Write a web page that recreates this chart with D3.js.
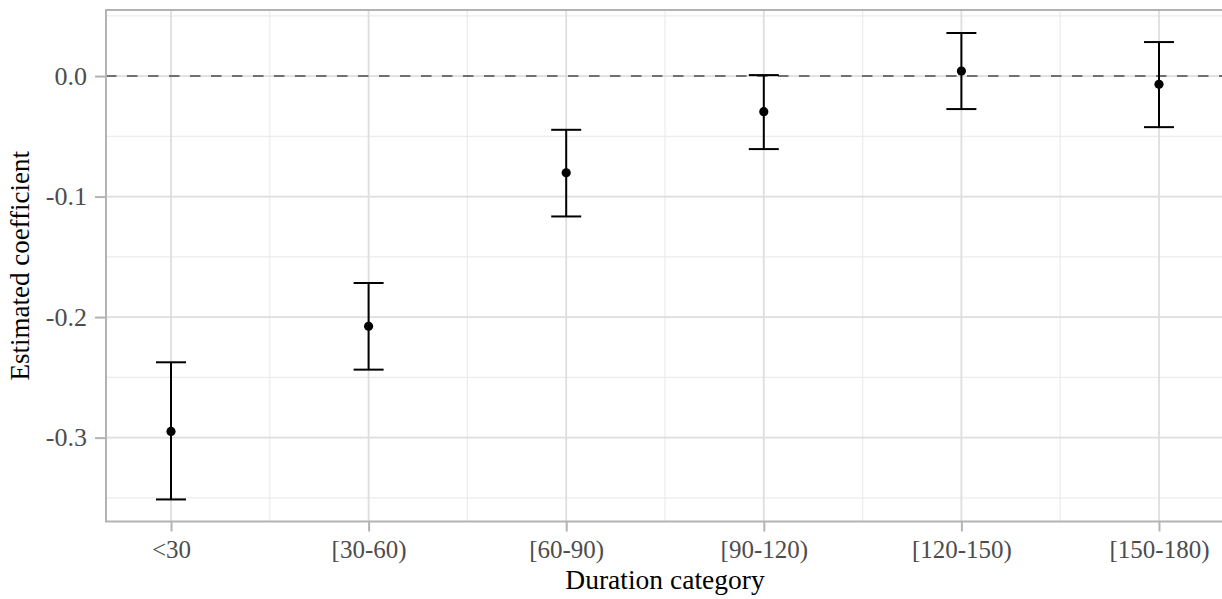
<!DOCTYPE html>
<html><head><meta charset="utf-8">
<script src="https://cdn.jsdelivr.net/npm/d3@7"></script>
<style>body{margin:0;background:#fff;} svg{display:block;}</style>
</head><body>
<svg id="chart" width="1222" height="599"></svg>
<script>
const categories = ["<30","[30-60)","[60-90)","[90-120)","[120-150)","[150-180)"];
const estimates = [-0.2949, -0.2076, -0.0803, -0.0296, 0.0042, -0.0069];
const lower = [-0.3513, -0.2436, -0.1165, -0.0606, -0.0274, -0.0424];
const upper = [-0.2375, -0.1717, -0.0446, 0.0008, 0.0357, 0.0282];
const yTicks = [0.0, -0.1, -0.2, -0.3];
const yMinor = [0.05, -0.05, -0.15, -0.25, -0.35];
const xTitle = "Duration category";
const yTitle = "Estimated coefficient";

const svg = d3.select("#chart");
const L = 106, R = 1224, T = 10, B = 521.5;
const font = "'Liberation Serif', 'Times New Roman', serif";

const x = d3.scalePoint().domain(categories).range([L, R]).padding(0.329);
const y = d3.scaleLinear().domain([-0.3696, 0.0548]).range([B, T]);
const step = x.step();

const g = svg.append("g");
// minor grid
g.selectAll(".ymin").data(yMinor).join("line")
  .attr("x1", L).attr("x2", R).attr("y1", d => y(d)).attr("y2", d => y(d))
  .attr("stroke", "#ebebeb").attr("stroke-width", 1.2);
g.selectAll(".xmin").data(categories.slice(0, -1)).join("line")
  .attr("x1", d => x(d) + step / 2).attr("x2", d => x(d) + step / 2)
  .attr("y1", T).attr("y2", B)
  .attr("stroke", "#ebebeb").attr("stroke-width", 1.2);
// major grid
g.selectAll(".ymaj").data(yTicks).join("line")
  .attr("x1", L).attr("x2", R).attr("y1", d => y(d)).attr("y2", d => y(d))
  .attr("stroke", "#dedede").attr("stroke-width", 1.8);
g.selectAll(".xmaj").data(categories).join("line")
  .attr("x1", d => x(d)).attr("x2", d => x(d)).attr("y1", T).attr("y2", B)
  .attr("stroke", "#dedede").attr("stroke-width", 1.8);

// zero dashed line
g.append("line").attr("x1", L).attr("x2", R).attr("y1", y(0)).attr("y2", y(0))
  .attr("stroke", "#707070").attr("stroke-width", 2).attr("stroke-dasharray", "10.5,10.5");

// error bars
const data = categories.map((c, i) => ({c, est: estimates[i], lo: lower[i], hi: upper[i]}));
const eb = g.selectAll(".eb").data(data).join("g");
eb.append("line").attr("x1", d => x(d.c)).attr("x2", d => x(d.c))
  .attr("y1", d => y(d.hi)).attr("y2", d => y(d.lo))
  .attr("stroke", "#000").attr("stroke-width", 2);
eb.append("line").attr("x1", d => x(d.c) - 15).attr("x2", d => x(d.c) + 15)
  .attr("y1", d => y(d.hi)).attr("y2", d => y(d.hi))
  .attr("stroke", "#000").attr("stroke-width", 2);
eb.append("line").attr("x1", d => x(d.c) - 15).attr("x2", d => x(d.c) + 15)
  .attr("y1", d => y(d.lo)).attr("y2", d => y(d.lo))
  .attr("stroke", "#000").attr("stroke-width", 2);
eb.append("circle").attr("cx", d => x(d.c)).attr("cy", d => y(d.est)).attr("r", 4.6).attr("fill", "#000");

// panel border
g.append("path").attr("d", `M${R + 5},${T} H${L} V${B} H${R + 5}`)
  .attr("fill", "none").attr("stroke", "#b3b3b3").attr("stroke-width", 2);

// axes
const xAxis = d3.axisBottom(x).tickSize(10).tickPadding(8);
const xg = svg.append("g").attr("transform", `translate(0,${B})`).call(xAxis);
xg.select(".domain").remove();
xg.selectAll(".tick line").attr("stroke", "#b3b3b3").attr("stroke-width", 2);
xg.selectAll(".tick text").attr("fill", "#4d4d4d").style("font-family", font).style("font-size", "25px")
  .attr("dy", "0.74em");

const yAxis = d3.axisLeft(y).tickValues(yTicks).tickFormat(d3.format(".1f")).tickSize(11).tickPadding(8);
const yg = svg.append("g").attr("transform", `translate(${L},0)`).call(yAxis);
yg.select(".domain").remove();
yg.selectAll(".tick line").attr("stroke", "#b3b3b3").attr("stroke-width", 2);
yg.selectAll(".tick text").attr("fill", "#4d4d4d").style("font-family", font).style("font-size", "26px")
  .text(d => d3.format(".1f")(d).replace("−", "-"));

// titles
svg.append("text").attr("x", (L + R) / 2).attr("y", 589).attr("text-anchor", "middle")
  .style("font-family", font).style("font-size", "27.5px").attr("fill", "#000").text(xTitle);
svg.append("text").attr("transform", `translate(29,${(T + B) / 2}) rotate(-90)`).attr("text-anchor", "middle")
  .style("font-family", font).style("font-size", "27px").attr("fill", "#000").text(yTitle);
</script>
</body></html>
